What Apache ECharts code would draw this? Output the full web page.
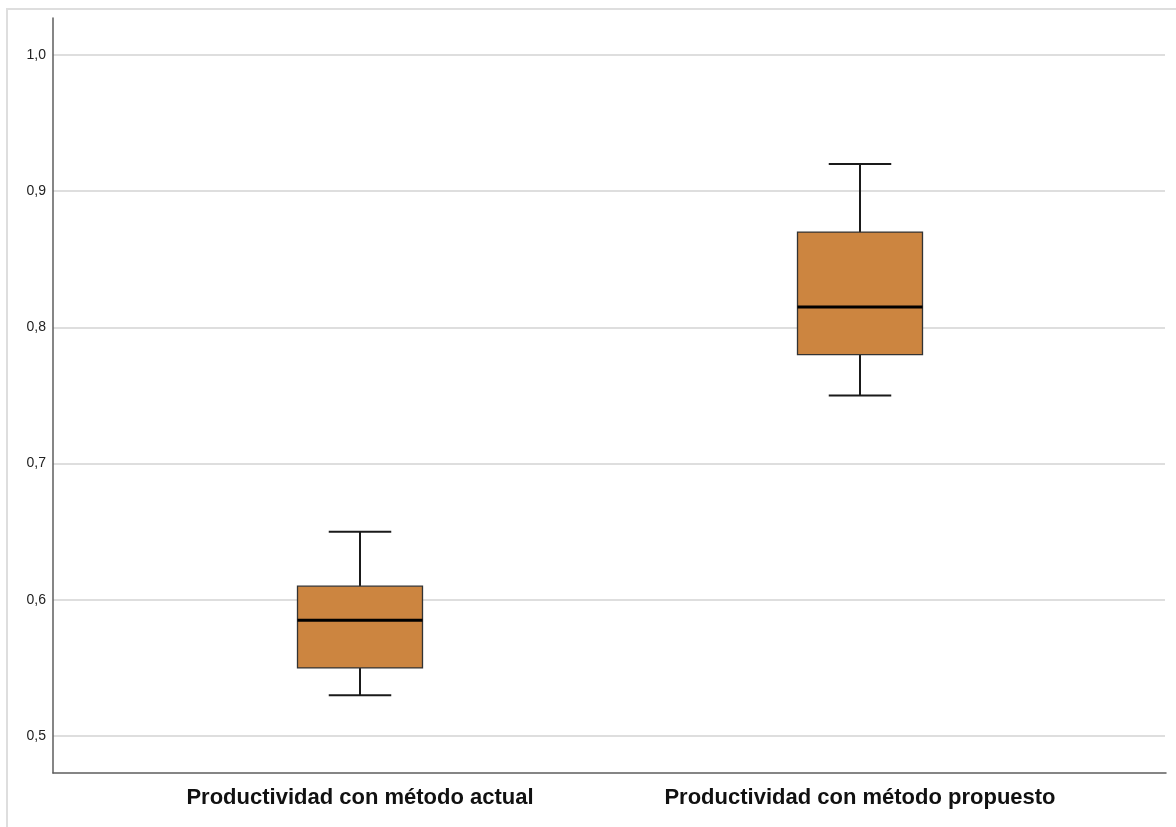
<!DOCTYPE html>
<html>
<head>
<meta charset="utf-8">
<style>
  html, body { margin: 0; padding: 0; background: #fff; }
  #chart { width: 1176px; height: 827px; }
</style>
<script src="https://cdn.jsdelivr.net/npm/echarts@6/dist/echarts.min.js"></script>
</head>
<body>
<div id="chart"></div>
<script>
// Box plot summary per group
const categories = ['Productividad con método actual', 'Productividad con método propuesto'];
const whiskerLow  = [0.53, 0.75];
const quartile1   = [0.55, 0.78];
const medians     = [0.585, 0.815];
const quartile3   = [0.61, 0.87];
const whiskerHigh = [0.65, 0.92];
const yTicks = [0.5, 0.6, 0.7, 0.8, 0.9, 1.0];

const boxData = categories.map((c, i) => [i, whiskerLow[i], quartile1[i], medians[i], quartile3[i], whiskerHigh[i]]);

const chart = echarts.init(document.getElementById('chart'), null, { renderer: 'canvas' });

function renderBox(params, api) {
  const x = api.value(0);
  const lo = api.coord([x, api.value(1)]);
  const q1 = api.coord([x, api.value(2)]);
  const md = api.coord([x, api.value(3)]);
  const q3 = api.coord([x, api.value(4)]);
  const hi = api.coord([x, api.value(5)]);
  const band = api.size([1, 0])[0];
  const half = band * 0.125;
  const cap = half / 2;
  const cx = lo[0];
  const lineStyle = { stroke: '#1a1a1a', lineWidth: 2 };
  return {
    type: 'group',
    children: [
      { type: 'line', shape: { x1: cx, y1: hi[1], x2: cx, y2: q3[1] }, style: lineStyle },
      { type: 'line', shape: { x1: cx, y1: q1[1], x2: cx, y2: lo[1] }, style: lineStyle },
      { type: 'line', shape: { x1: cx - cap, y1: hi[1], x2: cx + cap, y2: hi[1] }, style: lineStyle },
      { type: 'line', shape: { x1: cx - cap, y1: lo[1], x2: cx + cap, y2: lo[1] }, style: lineStyle },
      { type: 'rect', shape: { x: cx - half, y: q3[1], width: half * 2, height: q1[1] - q3[1] },
        style: { fill: '#cc8540', stroke: '#333333', lineWidth: 1.3 } },
      { type: 'line', shape: { x1: cx - half, y1: md[1], x2: cx + half, y2: md[1] },
        style: { stroke: '#000000', lineWidth: 3 } }
    ]
  };
}

const hidden = { show: false };

chart.setOption({
  backgroundColor: '#ffffff',
  animation: false,
  graphic: [{
    type: 'rect',
    shape: { x: 7, y: 9, width: 1200, height: 900 },
    style: { fill: 'none', stroke: '#dedede', lineWidth: 2 },
    z: -1
  }],
  grid: [
    // frame with axis lines
    { left: 53, right: 10, top: 18, bottom: 54 },
    // gridlines and value labels
    { left: 53, right: 11, top: 55, bottom: 91 },
    // boxes and category labels
    { left: 110, right: 66, top: 55, bottom: 91 }
  ],
  xAxis: [
    { gridIndex: 0, type: 'value', min: 0, max: 1,
      axisLine: { show: true, onZero: false, lineStyle: { color: '#5e5e5e', width: 1.5 } },
      axisTick: hidden, axisLabel: hidden, splitLine: hidden },
    { gridIndex: 1, type: 'value', min: 0, max: 1,
      axisLine: hidden, axisTick: hidden, axisLabel: hidden, splitLine: hidden },
    { gridIndex: 2, type: 'category', data: categories, boundaryGap: true,
      axisLine: hidden, axisTick: hidden, splitLine: hidden,
      axisLabel: {
        margin: 51, color: '#111111', fontFamily: 'Liberation Sans, Arial, sans-serif',
        fontSize: 22, fontWeight: 'bold', interval: 0
      } }
  ],
  yAxis: [
    { gridIndex: 0, type: 'value', min: 0, max: 1,
      axisLine: { show: true, onZero: false, lineStyle: { color: '#5e5e5e', width: 1.5 } },
      axisTick: hidden, axisLabel: hidden, splitLine: hidden },
    { gridIndex: 1, type: 'value', min: yTicks[0], max: yTicks[yTicks.length - 1], interval: 0.1,
      axisLine: hidden, axisTick: hidden,
      splitLine: { show: true, lineStyle: { color: '#d3d3d3', width: 1.5 } },
      axisLabel: {
        margin: 7, color: '#222222', fontFamily: 'Liberation Sans, Arial, sans-serif', fontSize: 14,
        padding: [3, 0, 0, 0],
        formatter: v => v.toFixed(1).replace('.', ',')
      } },
    { gridIndex: 2, type: 'value', min: yTicks[0], max: yTicks[yTicks.length - 1],
      axisLine: hidden, axisTick: hidden, axisLabel: hidden, splitLine: hidden }
  ],
  series: [{
    type: 'custom',
    xAxisIndex: 2,
    yAxisIndex: 2,
    data: boxData,
    encode: { x: 0, y: [1, 2, 3, 4, 5] },
    renderItem: renderBox,
    z: 5
  }]
});
</script>
</body>
</html>
